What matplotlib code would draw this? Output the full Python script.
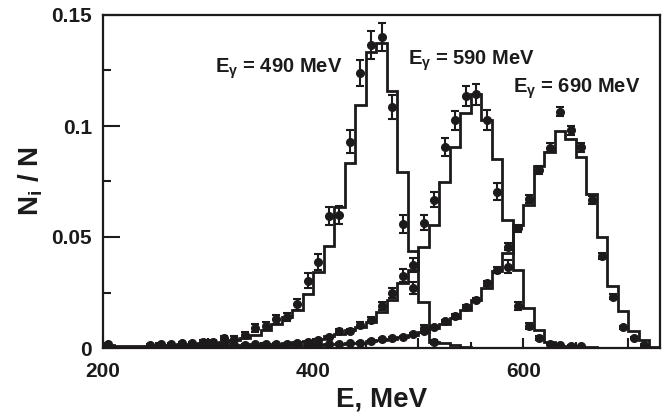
import matplotlib
matplotlib.use("Agg")
import matplotlib.pyplot as plt
import numpy as np
from matplotlib.ticker import MultipleLocator

INK = "#1c1a1b"
plt.rcParams["font.family"] = ["Liberation Sans", "DejaVu Sans"]
plt.rcParams["font.weight"] = "bold"
plt.rcParams["mathtext.fontset"] = "custom"
plt.rcParams["mathtext.rm"] = "Liberation Sans"
plt.rcParams["mathtext.it"] = "Liberation Sans:italic"
plt.rcParams["mathtext.bf"] = "Liberation Sans:bold"

# histogram bins, 10 MeV wide, 200..730
edges = np.arange(200, 740, 10)

hist_490 = [
    0.0012, 0.0009, 0.0009, 0.0009, 0.0010, 0.0012, 0.0014, 0.0017, 0.0019, 0.0021,
    0.0023, 0.0029, 0.0036, 0.0044, 0.0059, 0.0081, 0.0106, 0.0139, 0.0173, 0.0241,
    0.0341, 0.0459, 0.0634, 0.0833, 0.1095, 0.1335, 0.1372, 0.1159, 0.0792, 0.0436,
    0.0209, 0.0029, 0.0021, 0.0014, 0.0006, 0, 0, 0, 0, 0,
    0, 0, 0, 0, 0, 0, 0, 0, 0, 0,
    0, 0, 0,
]
hist_590 = [
    0.0003, 0.0003, 0.0004, 0.0004, 0.0005, 0.0006, 0.0007, 0.0008, 0.0009, 0.0010,
    0.0011, 0.0012, 0.0014, 0.0015, 0.0016, 0.0018, 0.0020, 0.0022, 0.0026, 0.0032,
    0.0039, 0.0054, 0.0063, 0.0081, 0.0096, 0.0119, 0.0160, 0.0216, 0.0291, 0.0352,
    0.0456, 0.0554, 0.0749, 0.0906, 0.1057, 0.1145, 0.1027, 0.0852, 0.0577, 0.0351,
    0.0179, 0.0081, 0.0025, 0.0010, 0.0006, 0.0004, 0.0003, 0.0002, 0.0001, 0,
    0, 0, 0,
]
hist_690 = [
    0.0001, 0.0001, 0.0002, 0.0002, 0.0002, 0.0003, 0.0003, 0.0003, 0.0004, 0.0004,
    0.0005, 0.0006, 0.0007, 0.0008, 0.0009, 0.0010, 0.0011, 0.0012, 0.0013, 0.0014,
    0.0015, 0.0017, 0.0019, 0.0021, 0.0024, 0.0030, 0.0036, 0.0042, 0.0048, 0.0058,
    0.0072, 0.0088, 0.0108, 0.0135, 0.0170, 0.0215, 0.0270, 0.0345, 0.0430, 0.0554,
    0.0644, 0.0820, 0.0884, 0.0979, 0.0940, 0.0862, 0.0693, 0.0500, 0.0281, 0.0167,
    0.0078, 0.0036, 0.0006,
]

# measured points
e_490 = [205, 245, 255, 265, 275, 285, 295, 305, 315, 325, 335, 345, 355, 365, 375,
         385, 395, 405, 415, 425, 435, 445, 455, 465, 475, 485, 495, 505, 515]
n_490 = [0.0018, 0.0014, 0.0018, 0.0018, 0.0021, 0.0024, 0.0029, 0.0029, 0.0046, 0.0042,
         0.0059, 0.0089, 0.0099, 0.0129, 0.0139, 0.0196, 0.0304, 0.0389, 0.0595, 0.0599,
         0.0929, 0.1240, 0.1365, 0.1400, 0.1087, 0.0559, 0.0270, 0.0090, 0.0028]
err_490 = [0.0004, 0.0004, 0.0004, 0.0004, 0.0005, 0.0005, 0.0006, 0.0006, 0.0010, 0.0010,
           0.0014, 0.0017, 0.0018, 0.0019, 0.0019, 0.0026, 0.0033, 0.0036, 0.0041, 0.0041,
           0.0051, 0.0059, 0.0062, 0.0064, 0.0054, 0.0041, 0.0029, 0.0015, 0.0008]

e_590 = [255, 265, 275, 285, 295, 305, 315, 325, 335, 345, 355, 365, 375, 385, 395,
         405, 415, 425, 435, 445, 455, 465, 475, 485, 495, 505, 515, 525, 535, 545,
         555, 565, 575, 585, 595, 605, 615, 625, 635, 645, 655]
n_590 = [0.0006, 0.0007, 0.0008, 0.0009, 0.0010, 0.0011, 0.0013, 0.0014, 0.0015, 0.0016,
         0.0017, 0.0018, 0.0019, 0.0021, 0.0026, 0.0036, 0.0048, 0.0077, 0.0076, 0.0104,
         0.0126, 0.0188, 0.0248, 0.0326, 0.0374, 0.0565, 0.0667, 0.0905, 0.1025, 0.1135,
         0.1142, 0.1027, 0.0704, 0.0366, 0.0189, 0.0099, 0.0044, 0.0018, 0.0012, 0.0008,
         0.0007]
err_590 = [0.0003, 0.0003, 0.0003, 0.0003, 0.0003, 0.0003, 0.0004, 0.0004, 0.0004, 0.0004,
           0.0004, 0.0004, 0.0004, 0.0005, 0.0005, 0.0006, 0.0007, 0.0010, 0.0010, 0.0012,
           0.0014, 0.0018, 0.0023, 0.0030, 0.0030, 0.0032, 0.0034, 0.0042, 0.0044, 0.0046,
           0.0046, 0.0043, 0.0038, 0.0030, 0.0020, 0.0012, 0.0008, 0.0004, 0.0004, 0.0004,
           0.0004]

e_690 = [285, 295, 305, 315, 325, 335, 345, 355, 365, 375, 385, 395, 405, 415, 425,
         435, 445, 455, 465, 475, 485, 495, 505, 515, 525, 535, 545, 555, 565, 575,
         585, 595, 605, 615, 625, 635, 645, 655, 665, 675, 685, 695, 705, 715]
n_690 = [0.0004, 0.0004, 0.0005, 0.0006, 0.0007, 0.0008, 0.0009, 0.0010, 0.0011, 0.0012,
         0.0013, 0.0014, 0.0016, 0.0017, 0.0019, 0.0021, 0.0024, 0.0033, 0.0042, 0.0046,
         0.0051, 0.0063, 0.0078, 0.0095, 0.0121, 0.0144, 0.0186, 0.0216, 0.0291, 0.0351,
         0.0456, 0.0539, 0.0670, 0.0802, 0.0903, 0.1065, 0.0980, 0.0905, 0.0667, 0.0414,
         0.0231, 0.0093, 0.0044, 0.0014]
err_690 = [0.0002, 0.0002, 0.0002, 0.0002, 0.0002, 0.0002, 0.0002, 0.0002, 0.0002, 0.0002,
           0.0003, 0.0003, 0.0003, 0.0003, 0.0003, 0.0003, 0.0003, 0.0004, 0.0004, 0.0004,
           0.0004, 0.0005, 0.0005, 0.0006, 0.0006, 0.0007, 0.0008, 0.0009, 0.0010, 0.0012,
           0.0015, 0.0017, 0.0018, 0.0019, 0.0020, 0.0021, 0.0020, 0.0020, 0.0018, 0.0015,
           0.0010, 0.0007, 0.0004, 0.0003]

labels = [r"$\mathbf{E}_{\mathrm{\gamma}}$ = 490 MeV",
          r"$\mathbf{E}_{\mathrm{\gamma}}$ = 590 MeV",
          r"$\mathbf{E}_{\mathrm{\gamma}}$ = 690 MeV"]
label_pos = [(307, 0.124), (490, 0.1275), (590, 0.115)]

fig = plt.figure(figsize=(6.72, 4.18), dpi=100)
ax = fig.add_axes([103 / 672, 1 - 348 / 418, 557 / 672, 333 / 418])

for h in (hist_490, hist_590, hist_690):
    ax.stairs(h, edges, color=INK, lw=2.0, baseline=None)

for e, n, err in ((e_490, n_490, err_490), (e_590, n_590, err_590), (e_690, n_690, err_690)):
    ax.errorbar(e, n, yerr=err, fmt="o", color=INK, ms=5.5, elinewidth=1.5,
                capsize=3, capthick=1.5)

for txt, (x, y) in zip(labels, label_pos):
    ax.text(x, y, txt, fontsize=14.5, fontweight="bold", color=INK)

ax.set_xlim(200, 730)
ax.set_ylim(0, 0.15)
ax.set_xticks([200, 300, 400, 500, 600, 700], labels=["200", "", "400", "", "600", ""])
ax.xaxis.set_minor_locator(MultipleLocator(50))
ax.set_yticks([0, 0.05, 0.1, 0.15], labels=["0", "0.05", "0.1", "0.15"])
ax.yaxis.set_minor_locator(MultipleLocator(0.025))

ax.tick_params(which="both", direction="in", top=False, right=False, colors=INK,
               labelsize=15, width=1.5)
ax.tick_params(axis="x", which="major", length=7, pad=10)
ax.tick_params(axis="x", which="minor", length=4)
ax.tick_params(axis="y", which="major", length=12, pad=8)
ax.tick_params(axis="y", which="minor", length=6)
for sp in ax.spines.values():
    sp.set_linewidth(1.6)
    sp.set_color(INK)

ax.set_xlabel("E, MeV", fontsize=20, fontweight="bold", color=INK)
ax.xaxis.set_label_coords(0.5, -0.115)
ax.set_ylabel(r"$\mathbf{N_i}$ / N", fontsize=20, fontweight="bold", color=INK)
ax.yaxis.set_label_coords(-0.105, 0.5)

fig.savefig("out.png", dpi=100)
